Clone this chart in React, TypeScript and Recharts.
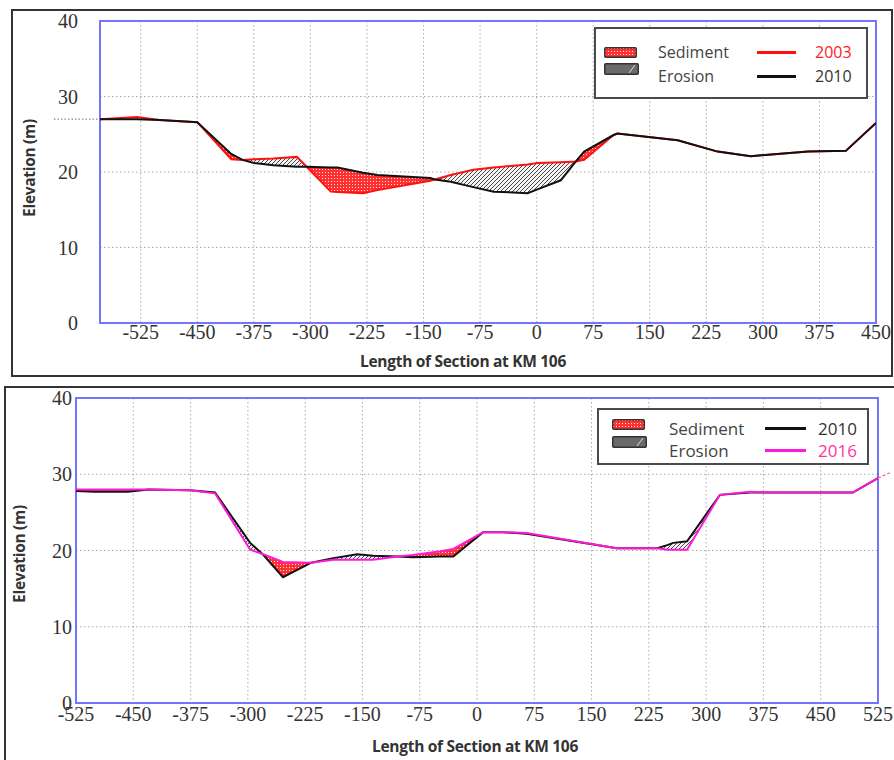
import React from "react";
import {
  Area,
  CartesianGrid,
  ComposedChart,
  Line,
  ReferenceArea,
  ReferenceLine,
  XAxis,
  YAxis,
} from "recharts";

// Cross-section at KM 106, 2003 vs 2010 (upper panel)
const TOP_X = [
  -579, -530, -500, -450, -405, -390, -375, -349, -318, -305, -273, -264, -230,
  -211, -141, -135, -114, -84, -57, -12, 1, 32, 52, 63, 102, 107, 187, 240, 284,
  360, 410, 450,
];
const TOP_2003 = [
  27.0, 27.3, 26.9, 26.6, 21.7, 21.6, 21.7, 21.8, 22.0, 20.7, 17.4, 17.35, 17.2,
  17.6, 18.85, 19.0, 19.6, 20.3, 20.6, 21.0, 21.2, 21.3, 21.4, 21.6, 24.9, 25.1,
  24.2, 22.7, 22.1, 22.7, 22.8, 26.5,
];
const TOP_2010 = [
  27.0, 27.0, 26.9, 26.6, 22.4, 21.6, 21.2, 20.9, 20.7, 20.7, 20.6, 20.6, 19.9,
  19.6, 19.2, 19.0, 18.7, 18.0, 17.4, 17.2, 17.7, 18.9, 21.4, 22.7, 24.9, 25.1,
  24.2, 22.7, 22.1, 22.7, 22.8, 26.5,
];
const TOP_TICKS = [-525, -450, -375, -300, -225, -150, -75, 0, 75, 150, 225, 300, 375, 450];
// bank level carried past the left edge of the section (dotted)
const TOP_BANK = { from: -640, to: -579, level: 27.0 };

// 2010 vs 2016 (lower panel)
const BOT_X = [
  -525, -500, -457, -430, -376, -343, -297, -281, -254, -217, -188, -157, -136,
  -104, -84, -48, -31, 8, 34, 65, 183, 236, 249, 257, 275, 318, 357, 393, 492, 525,
];
const BOT_2010 = [
  27.8, 27.7, 27.7, 28.0, 27.9, 27.6, 21.0, 19.55, 16.5, 18.4, 19.0, 19.5, 19.3,
  19.2, 19.1, 19.2, 19.2, 22.4, 22.4, 22.2, 20.3, 20.3, 20.7, 21.0, 21.2, 27.3,
  27.6, 27.6, 27.6, 29.5,
];
const BOT_2016 = [
  28.0, 28.0, 28.0, 28.0, 27.9, 27.5, 20.1, 19.55, 18.5, 18.4, 18.8, 18.8, 18.8,
  19.2, 19.4, 19.9, 20.2, 22.4, 22.4, 22.3, 20.3, 20.3, 20.1, 20.1, 20.1, 27.3,
  27.7, 27.6, 27.6, 29.5,
];
const BOT_TICKS = [-525, -450, -375, -300, -225, -150, -75, 0, 75, 150, 225, 300, 375, 450, 525];
// 2016 profile runs a little past the right edge
const BOT_TAIL = { from: [525, 29.5], to: [543, 30.3] };

const Y_TICKS = [0, 10, 20, 30, 40];

const RED = "#ff1010";
const BLACK = "#111111";
const MAGENTA = "#ff1ad9";
const BLUE = "#7474ff";

// newer surface above older = sediment, below = erosion
function buildRows(xs: number[], older: number[], newer: number[]) {
  return xs.map((x, i) => {
    const o = older[i];
    const n = newer[i];
    return {
      x,
      older: o,
      newer: n,
      sed: n > o ? [o, n] : [o, o],
      ero: o > n ? [n, o] : [n, n],
    };
  });
}

const topRows = buildRows(TOP_X, TOP_2003, TOP_2010);
const botRows = buildRows(BOT_X, BOT_2010, BOT_2016);

const tickFont = {
  fill: "#333",
  fontSize: 20,
  fontFamily: "'Liberation Serif', 'DejaVu Serif', serif",
};

function Patterns({ id }: { id: string }) {
  return (
    <defs>
      <pattern id={`${id}-sed`} width="3" height="3" patternUnits="userSpaceOnUse">
        <rect width="3" height="3" fill="#ff3030" />
        <rect x="1" y="1" width="1" height="1" fill="#ffe0e0" />
      </pattern>
      <pattern id={`${id}-ero`} width="4" height="4" patternUnits="userSpaceOnUse">
        <rect width="4" height="4" fill="#f4f4f4" />
        <path d="M-1,1 l2,-2 M0,4 l4,-4 M3,5 l2,-2" stroke="#333" strokeWidth="0.9" />
      </pattern>
    </defs>
  );
}

type PanelProps = {
  id: string;
  rows: ReturnType<typeof buildRows>;
  xDomain: [number, number];
  xTicks: number[];
  margin: { top: number; right: number; bottom: number; left: number };
  yTickMargin: number;
  xTickMargin: number;
  olderColor: string;
  newerColor: string;
  extra?: React.ReactNode;
};

function Panel(p: PanelProps) {
  return (
    <ComposedChart width={894} height={380} data={p.rows} margin={p.margin}>
      <Patterns id={p.id} />
      <CartesianGrid stroke="#a8a8a8" strokeDasharray="1.5 2.5" />
      <XAxis
        type="number"
        dataKey="x"
        domain={p.xDomain}
        ticks={p.xTicks}
        allowDataOverflow
        height={30}
        tickSize={0}
        tickMargin={p.xTickMargin}
        tickLine={false}
        axisLine={false}
        tick={tickFont}
        interval={0}
      />
      <YAxis
        type="number"
        domain={[0, 40]}
        ticks={Y_TICKS}
        width={40}
        tickSize={0}
        tickMargin={p.yTickMargin}
        tickLine={false}
        axisLine={false}
        tick={tickFont}
        interval={0}
      />
      <Area
        type="linear"
        dataKey="sed"
        stroke="none"
        fill={`url(#${p.id}-sed)`}
        fillOpacity={1}
        isAnimationActive={false}
      />
      <Area
        type="linear"
        dataKey="ero"
        stroke="none"
        fill={`url(#${p.id}-ero)`}
        fillOpacity={1}
        isAnimationActive={false}
      />
      <Line
        type="linear"
        dataKey="older"
        stroke={p.olderColor}
        strokeWidth={2}
        dot={false}
        isAnimationActive={false}
      />
      <Line
        type="linear"
        dataKey="newer"
        stroke={p.newerColor}
        strokeWidth={2}
        dot={false}
        isAnimationActive={false}
      />
      {p.extra}
      <ReferenceArea
        x1={p.xDomain[0]}
        x2={p.xDomain[1]}
        y1={0}
        y2={40}
        fill="none"
        stroke={BLUE}
        strokeWidth={2}
        ifOverflow="visible"
      />
    </ComposedChart>
  );
}

const legendFont = {
  fontFamily: "'Open Sans', 'Liberation Sans', sans-serif",
  fontSize: 16,
  color: "#444",
  lineHeight: 1,
};

function Swatch({ id, kind, left, top, w, h }: { id: string; kind: "sed" | "ero"; left: number; top: number; w: number; h: number }) {
  return (
    <svg width={w} height={h} style={{ position: "absolute", left, top }}>
      <Patterns id={id} />
      <rect
        x={0.75}
        y={0.75}
        width={w - 1.5}
        height={h - 1.5}
        fill={kind === "sed" ? `url(#${id}-sed)` : "#6a6a6a"}
        stroke="#333"
        strokeWidth={1.5}
        rx={1}
      />
      {kind === "ero" && (
        <path d={`M${w - 10},${h - 2} l6,-${h - 4}`} stroke="#ddd" strokeWidth={1} />
      )}
    </svg>
  );
}

type LegendProps = {
  id: string;
  box: { left: number; top: number; width: number; height: number };
  swatchX: number;
  sedY: number;
  eroY: number;
  textX: number;
  lineX: number;
  lineW: number;
  yearX: number;
  row1: number;
  row2: number;
  years: { label: string; line: string; text: string }[];
  fontSize: number;
};

function Legend(l: LegendProps) {
  const t = (txt: string, x: number, y: number, color?: string) => (
    <div
      style={{
        ...legendFont,
        fontSize: l.fontSize,
        position: "absolute",
        left: x,
        top: y,
        transform: "translateY(-50%)",
        whiteSpace: "nowrap",
        color: color ?? legendFont.color,
      }}
    >
      {txt}
    </div>
  );
  return (
    <div
      style={{
        position: "absolute",
        left: l.box.left,
        top: l.box.top,
        width: l.box.width,
        height: l.box.height,
        border: "2px solid #4a4a4a",
        background: "#fff",
        boxSizing: "border-box",
      }}
    >
      <Swatch id={`${l.id}-s1`} kind="sed" left={l.swatchX} top={l.sedY} w={33} h={11} />
      <Swatch id={`${l.id}-s2`} kind="ero" left={l.swatchX} top={l.eroY} w={35} h={12} />
      {t("Sediment", l.textX, l.row1)}
      {t("Erosion", l.textX, l.row2)}
      {l.years.map((y, i) => (
        <React.Fragment key={y.label}>
          <div
            style={{
              position: "absolute",
              left: l.lineX,
              top: (i === 0 ? l.row1 : l.row2) - 1,
              width: l.lineW,
              height: 2.5,
              background: y.line,
            }}
          />
          {t(y.label, l.yearX, i === 0 ? l.row1 : l.row2, y.text)}
        </React.Fragment>
      ))}
    </div>
  );
}

const titleFont = {
  fontFamily: "'Open Sans', 'Liberation Sans', sans-serif",
  fontWeight: 700,
  fontSize: 15.5,
  color: "#333",
  whiteSpace: "nowrap" as const,
  position: "absolute" as const,
  lineHeight: 1,
  letterSpacing: -0.3,
};

export default function App() {
  return (
    <div
      style={{
        position: "absolute",
        left: 0,
        top: 0,
        width: 894,
        height: 760,
        background: "#fff",
        overflow: "hidden",
      }}
    >
      {/* upper panel */}
      <div
        style={{
          position: "absolute",
          left: 11,
          top: 9,
          width: 882,
          height: 368,
          border: "2px solid #333",
          boxSizing: "border-box",
        }}
      />
      <div style={{ position: "absolute", left: 0, top: 0 }}>
        <Panel
          id="p1"
          rows={topRows}
          xDomain={[-579, 450]}
          xTicks={TOP_TICKS}
          margin={{ top: 21, right: 18, bottom: 27, left: 60 }}
          yTickMargin={22}
          xTickMargin={2}
          olderColor={RED}
          newerColor={BLACK}
          extra={
            <ReferenceLine
              segment={[
                { x: TOP_BANK.from, y: TOP_BANK.level },
                { x: TOP_BANK.to, y: TOP_BANK.level },
              ]}
              stroke="#888"
              strokeDasharray="1.5 2"
              strokeWidth={1.2}
              ifOverflow="visible"
            />
          }
        />
      </div>
      <Legend
        id="l1"
        box={{ left: 594, top: 27, width: 274, height: 72 }}
        swatchX={8}
        sedY={18}
        eroY={34}
        textX={62}
        lineX={161}
        lineW={39}
        yearX={219}
        row1={23}
        row2={47}
        years={[
          { label: "2003", line: RED, text: "#ff2020" },
          { label: "2010", line: BLACK, text: "#333" },
        ]}
        fontSize={16}
      />
      <div style={{ ...titleFont, left: 30, top: 168, transform: "translate(-50%,-50%) rotate(-90deg)" }}>
        Elevation (m)
      </div>
      <div style={{ ...titleFont, left: 463, top: 362, transform: "translate(-50%,-50%)" }}>
        Length of Section at KM 106
      </div>

      {/* lower panel */}
      <div
        style={{
          position: "absolute",
          left: 4,
          top: 386,
          width: 900,
          height: 400,
          border: "2px solid #333",
          boxSizing: "border-box",
        }}
      />
      <div style={{ position: "absolute", left: 0, top: 380 }}>
        <Panel
          id="p2"
          rows={botRows}
          xDomain={[-525, 525]}
          xTicks={BOT_TICKS}
          margin={{ top: 18, right: 16, bottom: 27, left: 36 }}
          yTickMargin={4}
          xTickMargin={4}
          olderColor={BLACK}
          newerColor={MAGENTA}
          extra={
            <ReferenceLine
              segment={[
                { x: BOT_TAIL.from[0], y: BOT_TAIL.from[1] },
                { x: BOT_TAIL.to[0], y: BOT_TAIL.to[1] },
              ]}
              stroke="#ff6060"
              strokeDasharray="3 2"
              strokeWidth={1.2}
              ifOverflow="visible"
            />
          }
        />
      </div>
      <Legend
        id="l2"
        box={{ left: 597, top: 408, width: 272, height: 57 }}
        swatchX={13}
        sedY={9}
        eroY={26}
        textX={70}
        lineX={166}
        lineW={41}
        yearX={219}
        row1={18}
        row2={40}
        years={[
          { label: "2010", line: BLACK, text: "#333" },
          { label: "2016", line: MAGENTA, text: "#ff3399" },
        ]}
        fontSize={17}
      />
      <div style={{ ...titleFont, left: 20, top: 554, transform: "translate(-50%,-50%) rotate(-90deg)" }}>
        Elevation (m)
      </div>
      <div style={{ ...titleFont, left: 475, top: 747, transform: "translate(-50%,-50%)" }}>
        Length of Section at KM 106
      </div>
    </div>
  );
}
